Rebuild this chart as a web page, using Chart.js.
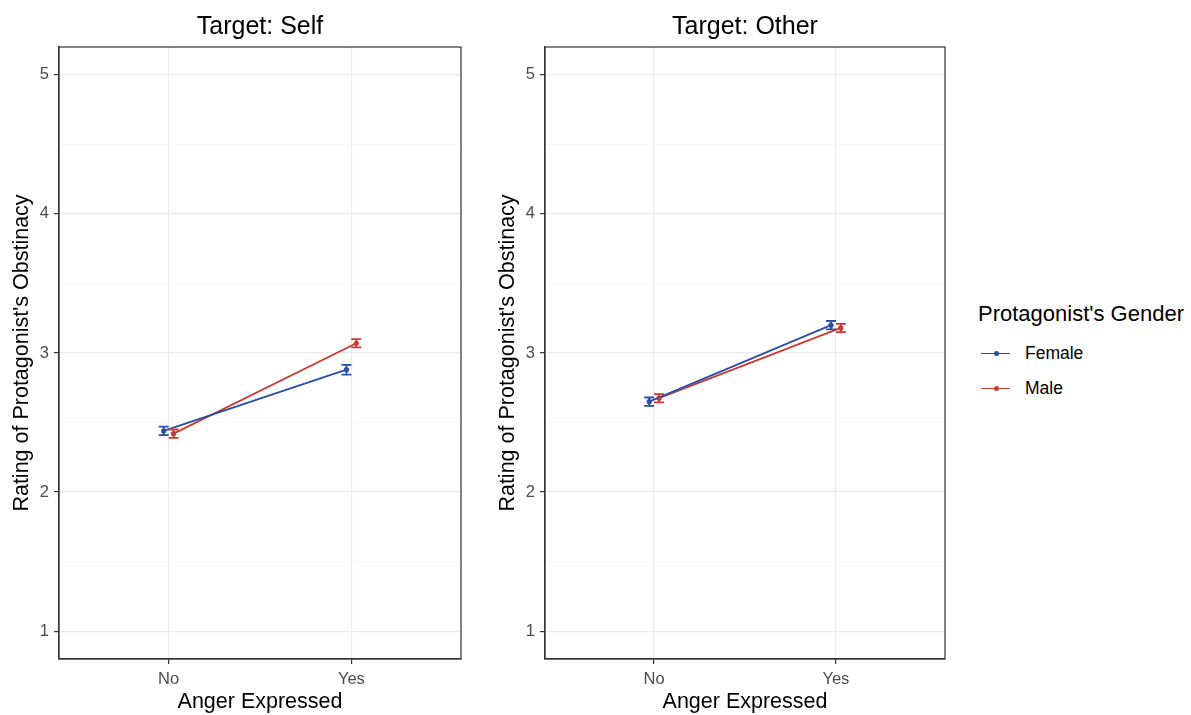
<!DOCTYPE html>
<html>
<head>
<meta charset="utf-8">
<script src="https://cdn.jsdelivr.net/npm/chart.js@4"></script>
<style>
  body { margin: 0; background: #fff; font-family: "Liberation Sans", Arial, sans-serif; }
  #wrap { position: relative; width: 1191px; height: 715px; }
  .panel { position: absolute; top: 0; width: 470px; height: 715px; }
  .strip { position: absolute; top: 10px; font-size: 25px; line-height: 30px; color: #000; text-align: center; }
  #legend { position: absolute; left: 978px; top: 300px; color: #000; }
  #legend .ttl { font-size: 22px; line-height: 28px; margin-bottom: 8px; }
  #legend .item { display: flex; align-items: center; height: 35px; font-size: 17.5px; }
  #legend .key { position: relative; width: 32px; height: 20px; margin-right: 15px; }
  #legend .key i { position: absolute; left: 3px; right: 0; top: 9px; height: 1.8px; }
  #legend .key b { position: absolute; left: 15.5px; top: 7.5px; width: 5px; height: 5px; border-radius: 50%; }
</style>
</head>
<body>
<div id="wrap">
  <div class="panel" style="left:0"><canvas id="selfChart" width="470" height="715"></canvas></div>
  <div class="panel" style="left:486px"><canvas id="otherChart" width="470" height="715"></canvas></div>
  <div class="strip" style="left:59px;width:402px">Target: Self</div>
  <div class="strip" style="left:545px;width:400px">Target: Other</div>
  <div id="legend">
    <div class="ttl">Protagonist's Gender</div>
    <div class="item"><span class="key"><i style="background:#2B4FA6"></i><b style="background:#2B4FA6"></b></span>Female</div>
    <div class="item"><span class="key"><i style="background:#C93A31"></i><b style="background:#C93A31"></b></span>Male</div>
  </div>
</div>
<script>
const categories = ['No', 'Yes'];
const genders = ['Female', 'Male'];
const colors = ['#2B4FA6', '#C93A31'];
const majorTicks = [1, 2, 3, 4, 5];
const minorTicks = [1.5, 2.5, 3.5, 4.5];

// mean ratings, per gender, at No / Yes
const selfFemale = [2.44, 2.88];
const selfMale = [2.42, 3.07];
const otherFemale = [2.65, 3.20];
const otherMale = [2.675, 3.18];

// standard errors
const selfFemaleSe = [0.03, 0.035];
const selfMaleSe = [0.03, 0.03];
const otherFemaleSe = [0.03, 0.03];
const otherMaleSe = [0.03, 0.03];

const dodge = [-0.027, 0.027];

function points(values, g) {
  return values.map((v, i) => ({ x: i + 1 + dodge[g], y: v }));
}

const errorBars = {
  id: 'errorBars',
  afterDatasetsDraw(chart) {
    const ctx = chart.ctx;
    const xs = chart.scales.x, ys = chart.scales.y;
    chart.data.datasets.forEach(ds => {
      ds.data.forEach((p, i) => {
        const se = ds.se[i];
        const x = xs.getPixelForValue(p.x);
        const y1 = ys.getPixelForValue(p.y - se);
        const y2 = ys.getPixelForValue(p.y + se);
        ctx.save();
        ctx.strokeStyle = ds.borderColor;
        ctx.lineWidth = 1.8;
        ctx.beginPath();
        ctx.moveTo(x, y1); ctx.lineTo(x, y2);
        ctx.moveTo(x - 5, y1); ctx.lineTo(x + 5, y1);
        ctx.moveTo(x - 5, y2); ctx.lineTo(x + 5, y2);
        ctx.stroke();
        ctx.restore();
      });
    });
  }
};

const frame = {
  id: 'frame',
  afterDraw(chart) {
    const a = chart.chartArea, ctx = chart.ctx;
    ctx.save();
    ctx.strokeStyle = '#333333';
    ctx.lineWidth = 1.2;
    ctx.strokeRect(a.left, a.top, a.right - a.left, a.bottom - a.top);
    ctx.restore();
  }
};

function buildPanel(canvasId, female, male, femaleSe, maleSe, padRight) {
  const series = [female, male];
  const ses = [femaleSe, maleSe];
  return new Chart(document.getElementById(canvasId), {
    type: 'line',
    data: {
      datasets: genders.map((g, i) => ({
        label: g,
        data: points(series[i], i),
        se: ses[i],
        borderColor: colors[i],
        backgroundColor: colors[i],
        borderWidth: 1.8,
        pointRadius: 2.6,
        pointHoverRadius: 2.6,
        pointBorderWidth: 0,
        tension: 0
      }))
    },
    options: {
      responsive: false,
      animation: false,
      events: [],
      layout: { padding: { top: 47, right: padRight, left: 0, bottom: 0 } },
      plugins: { legend: { display: false }, tooltip: { enabled: false } },
      scales: {
        x: {
          type: 'linear',
          min: 0.4,
          max: 2.6,
          afterBuildTicks: s => { s.ticks = categories.map((c, i) => ({ value: i + 1 })); },
          afterFit: s => { s.height = 56; },
          ticks: {
            callback: v => categories[v - 1],
            color: '#4D4D4D',
            font: { family: 'Liberation Sans', size: 16.5 },
            padding: 6,
            maxRotation: 0
          },
          grid: { color: '#EBEBEB', lineWidth: 1.2, tickColor: '#333333', tickLength: 5 },
          border: { color: '#333333', width: 1.2 },
          title: {
            display: true,
            text: 'Anger Expressed',
            color: '#000',
            font: { family: 'Liberation Sans', size: 21.5 },
            padding: { top: 0, bottom: 0 }
          }
        },
        y: {
          type: 'linear',
          min: 0.8,
          max: 5.2,
          afterBuildTicks: s => {
            s.ticks = majorTicks.concat(minorTicks).sort((a, b) => a - b).map(v => ({ value: v }));
          },
          afterFit: s => { s.width = 59; },
          ticks: {
            callback: v => (majorTicks.includes(v) ? String(v) : ''),
            color: '#4D4D4D',
            font: { family: 'Liberation Sans', size: 16.5 },
            padding: 5
          },
          grid: {
            color: c => (majorTicks.includes(c.tick.value) ? '#EBEBEB' : '#F5F5F5'),
            lineWidth: c => (majorTicks.includes(c.tick.value) ? 1.2 : 0.8),
            tickColor: c => (majorTicks.includes(c.tick.value) ? '#333333' : 'rgba(0,0,0,0)'),
            tickLength: 5
          },
          border: { color: '#333333', width: 1.2 },
          title: {
            display: true,
            text: "Rating of Protagonist's Obstinacy",
            color: '#000',
            font: { family: 'Liberation Sans', size: 21.5 },
            padding: { top: 9, bottom: 0 }
          }
        }
      }
    },
    plugins: [errorBars, frame]
  });
}

buildPanel('selfChart', selfFemale, selfMale, selfFemaleSe, selfMaleSe, 9);
buildPanel('otherChart', otherFemale, otherMale, otherFemaleSe, otherMaleSe, 11);
</script>
</body>
</html>
